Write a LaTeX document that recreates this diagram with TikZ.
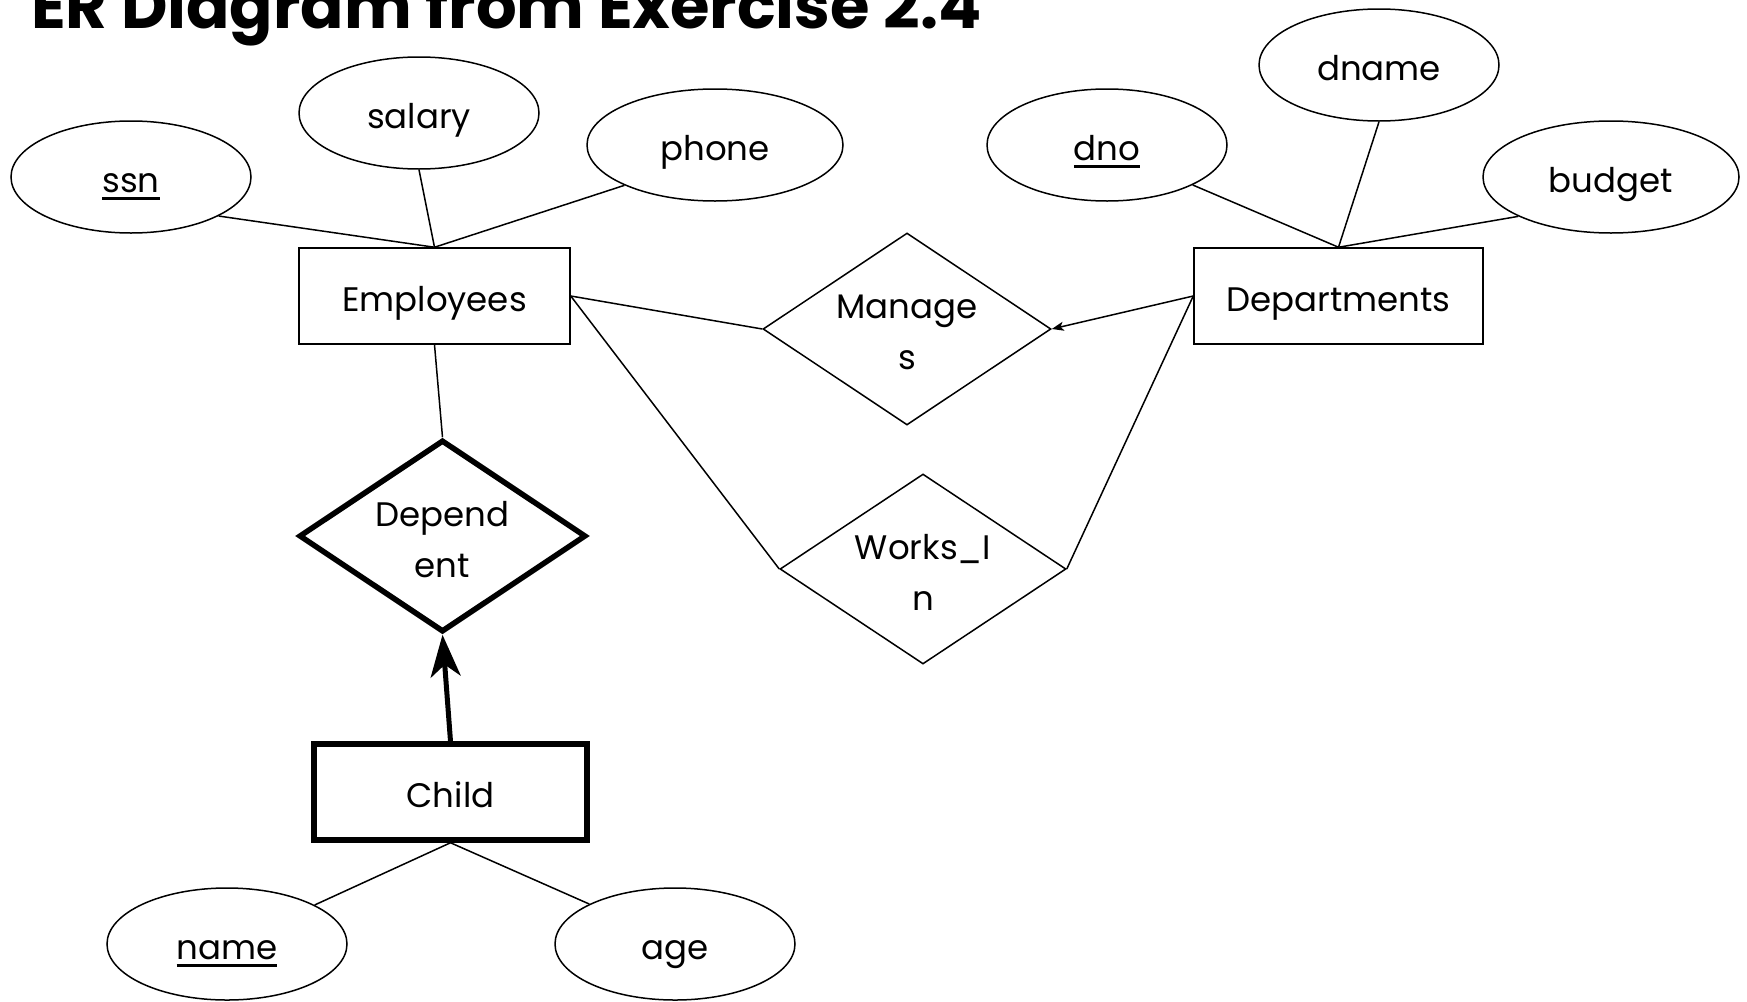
\documentclass[tikz,border=0pt]{standalone}
\usepackage{fontspec}
\setmainfont{Poppins}
\usetikzlibrary{shapes.geometric,arrows.meta}
\newcommand\myul[1]{\setbox0=\hbox{#1}\leavevmode\rlap{\rule[-0.22em]{\wd0}{0.08em}}\box0}
\begin{document}
\begin{tikzpicture}[x=1pt,y=-1pt,
  lbl/.style={font=\fontsize{34}{51}\selectfont},
  attr/.style={ellipse,draw,line width=1.5pt,inner sep=0pt,minimum width=240pt,minimum height=112pt,lbl,text height=31pt,text depth=0pt},
  wattr/.style={attr,minimum width=256pt},
  ent/.style={rectangle,draw,line width=1.5pt,inner sep=0pt,minimum width=271pt,minimum height=96pt,lbl,text height=31pt,text depth=0pt},
  rel/.style={diamond,draw,line width=1.5pt,inner sep=0pt,minimum width=288pt,minimum height=192pt},
  thick rel/.style={rel,line width=5.5pt,line join=miter},
  conn/.style={line width=1.5pt},
  rtext/.style={lbl,align=center}
]
\path[fill=white] (0,0) rectangle (1747,1001);
\useasboundingbox (0,0) rectangle (1747,1001);

\node[anchor=base west,inner sep=0pt,font=\fontsize{64}{72}\selectfont\bfseries] (title) at (31,28) {ER Diagram from Exercise 2.4};

% entities
\node[ent] (emp) at (434.5,296) {Employees};
\node[ent,minimum width=289pt] (dept) at (1338.5,296) {Departments};
\node[ent,line width=5.5pt,minimum width=273pt] (child) at (450.5,792) {Child};

% attributes
\node[attr] (ssn) at (131,177) {\myul{ssn}};
\node[attr] (salary) at (419,113) {salary};
\node[wattr] (phone) at (715,145) {phone};
\node[attr] (dno) at (1107,145) {\myul{dno}};
\node[attr] (dname) at (1379,65) {dname};
\node[wattr] (budget) at (1611,177) {budget};
\node[attr] (name) at (227,944) {\myul{name}};
\node[attr] (age) at (675,944) {age};

% relationships
\node[rel] (man) at (907,329) {};
\node[rtext] (mant) at (907,332) {Manage\\s};
\node[rel,minimum width=286pt,minimum height=190pt] (works) at (923,569) {};
\node[rtext] (workst) at (923,572) {Works\_I\\n};
\node[thick rel,minimum width=287pt,minimum height=192pt] (dep) at (442.5,536) {};
\node[rtext] (dept-t) at (442.5,540) {Depend\\ent};

% connectors
\draw[conn] (ssn.-24) -- (emp.north);
\draw[conn] (salary.south) -- (emp.north);
\draw[conn] (phone.204) -- (emp.north);
\draw[conn] (dno.-25) -- (dept.north);
\draw[conn] (dname.south) -- (dept.north);
\draw[conn] (budget.203) -- (dept.north);
\draw[conn] (emp.east) -- (man.west);
\draw[conn] (emp.east) -- (works.west);
\draw[conn,-{Stealth[length=12pt,width=9pt,inset=3pt]}] (dept.west) -- (man.east);
\draw[conn] (dept.west) -- (works.east);
\draw[conn] (emp.south) -- (dep.north);
\draw[line width=5pt,-{Stealth[length=42pt,width=30pt,inset=12pt]}] (child.north) -- (dep.south);
\draw[conn] (child.south) -- (name.24);
\draw[conn] (child.south) -- (age.155);
\end{tikzpicture}
\end{document}
